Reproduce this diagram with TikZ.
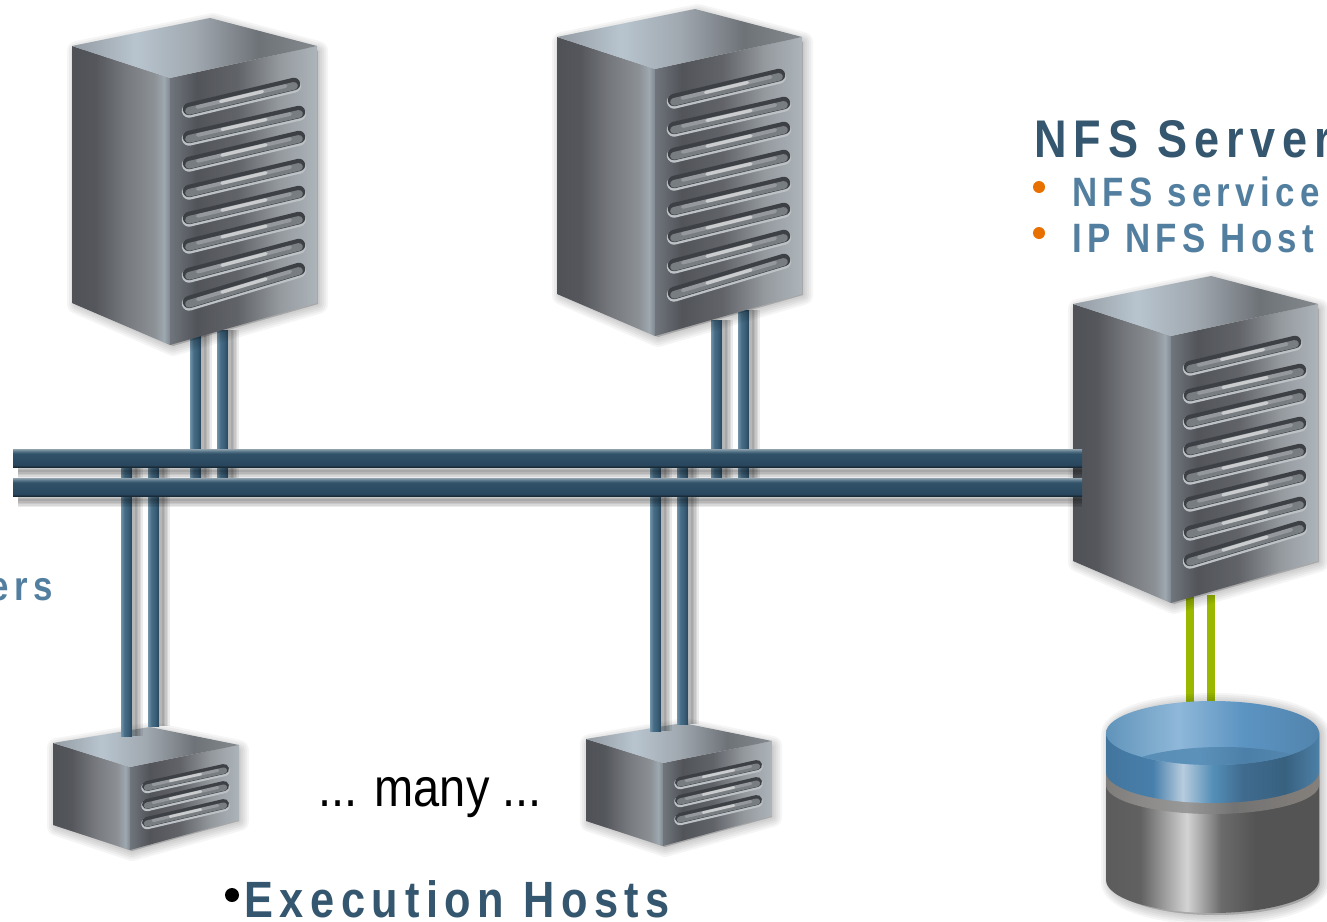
\documentclass[tikz,border=0pt]{standalone}
\usepackage{fontspec}
\setmainfont{Liberation Sans}
\newfontfamily\trackfont{Liberation Sans}[LetterSpace=13,FakeStretch=0.85]
\newfontfamily\plainfont{Liberation Sans}[FakeStretch=0.87]
\usetikzlibrary{calc}
\definecolor{titleblue}{HTML}{34566E}
\definecolor{subblue}{HTML}{527F9F}
\definecolor{dotorange}{HTML}{E87000}
\definecolor{storagegreen}{HTML}{9AB800}
\definecolor{slatlight}{rgb}{.74,.76,.78}
\definecolor{slatdark}{rgb}{.24,.25,.27}
\definecolor{slatmid}{rgb}{.47,.49,.51}
% a shading's 25bp..75bp span the path's bounding box
\pgfdeclarehorizontalshading{srvleft}{100bp}{rgb(0bp)=(.31,.32,.34); rgb(25bp)=(.31,.32,.34); rgb(37bp)=(.33,.34,.36); rgb(52bp)=(.46,.47,.49); rgb(67bp)=(.55,.57,.59); rgb(72bp)=(.62,.66,.69); rgb(75bp)=(.50,.53,.56); rgb(100bp)=(.50,.53,.56)}
\pgfdeclarehorizontalshading{srvfront}{100bp}{rgb(0bp)=(.44,.46,.49); rgb(25bp)=(.44,.46,.49); rgb(34bp)=(.32,.33,.35); rgb(48bp)=(.38,.39,.41); rgb(62bp)=(.58,.60,.62); rgb(75bp)=(.68,.71,.73); rgb(100bp)=(.68,.71,.73)}
\pgfdeclarehorizontalshading{srvtop}{100bp}{rgb(0bp)=(.58,.61,.64); rgb(25bp)=(.58,.61,.64); rgb(38bp)=(.72,.77,.81); rgb(50bp)=(.63,.66,.69); rgb(63bp)=(.43,.45,.47); rgb(75bp)=(.52,.54,.56); rgb(100bp)=(.52,.54,.56)}
\pgfdeclarehorizontalshading{cableshade}{100bp}{rgb(0bp)=(.45,.58,.66); rgb(25bp)=(.45,.58,.66); rgb(40bp)=(.28,.43,.53); rgb(60bp)=(.22,.36,.46); rgb(75bp)=(.16,.27,.36); rgb(100bp)=(.16,.27,.36)}
\pgfdeclareverticalshading{busshade}{100bp}{rgb(0bp)=(.10,.17,.22); rgb(25bp)=(.10,.17,.22); rgb(31bp)=(.16,.28,.37); rgb(62bp)=(.19,.32,.41); rgb(68bp)=(.32,.44,.52); rgb(75bp)=(.56,.63,.68); rgb(100bp)=(.56,.63,.68)}
\pgfdeclarehorizontalshading{blueband}{100bp}{rgb(0bp)=(.26,.46,.62); rgb(25bp)=(.26,.46,.62); rgb(36bp)=(.28,.50,.67); rgb(43bp)=(.72,.80,.87); rgb(50bp)=(.33,.56,.72); rgb(57bp)=(.25,.42,.56); rgb(67bp)=(.22,.38,.50); rgb(75bp)=(.30,.50,.65); rgb(100bp)=(.30,.50,.65)}
\pgfdeclarehorizontalshading{bluetop}{100bp}{rgb(0bp)=(.38,.58,.73); rgb(25bp)=(.38,.58,.73); rgb(42bp)=(.56,.72,.85); rgb(57bp)=(.36,.58,.76); rgb(75bp)=(.32,.52,.68); rgb(100bp)=(.32,.52,.68)}
\pgfdeclarehorizontalshading{blueinner}{100bp}{rgb(0bp)=(.34,.54,.70); rgb(25bp)=(.34,.54,.70); rgb(45bp)=(.36,.57,.73); rgb(55bp)=(.30,.50,.66); rgb(75bp)=(.36,.56,.72); rgb(100bp)=(.36,.56,.72)}
\pgfdeclarehorizontalshading{graybody}{100bp}{rgb(0bp)=(.36,.36,.36); rgb(25bp)=(.36,.36,.36); rgb(33bp)=(.38,.38,.38); rgb(44bp)=(.83,.83,.83); rgb(52bp)=(.42,.42,.42); rgb(60bp)=(.33,.33,.33); rgb(100bp)=(.33,.33,.33)}
\pgfdeclarehorizontalshading{graylip}{100bp}{rgb(0bp)=(.50,.49,.48); rgb(25bp)=(.50,.49,.48); rgb(44bp)=(.60,.60,.60); rgb(55bp)=(.45,.45,.45); rgb(75bp)=(.52,.50,.48); rgb(100bp)=(.52,.50,.48)}
\tikzset{
  x=1pt,y=-1pt,
  tracktext/.style={anchor=base west,inner sep=0pt,font=\trackfont\bfseries},
  softstroke/.style={line join=round,line cap=round,black,opacity=.04}
}
% soft shadow: stack of translucent strokes
\newcommand{\softshadow}[1]{%
  \foreach \w in {20,16,12,8,4}{\filldraw[softstroke,line width=\w pt] #1;}}
\newcommand{\softline}[1]{%
  \foreach \w in {14,11,8,5,2}{\draw[softstroke,opacity=.08,line cap=butt,line width=\w pt] #1;}}
\newcommand{\slat}[5]{% x1 y1 x2 y2 width
  \draw[line cap=round,line width=#5*1.15pt,slatlight] (#1,#2+1.5) -- (#3,#4+1.5);
  \draw[line cap=round,line width=#5pt,slatdark] (#1,#2) -- (#3,#4);
  \draw[line cap=round,line width=#5*.62pt,slatmid] (#1,#2+#5*.15) -- (#3,#4+#5*.15);
  \draw[line cap=round,line width=#5*.3pt,white,opacity=.22] ($(#1,#2)!.08!(#3,#4)$) -- ($(#1,#2)!.92!(#3,#4)$);
  \draw[line cap=round,line width=#5*.26pt,white,opacity=.5] ($(#1,#2)!.3!(#3,#4)$) -- ($(#1,#2)!.7!(#3,#4)$);
}
\newcommand{\bigserver}[2]{% dx dy
  \begin{scope}[shift={(#1,#2)}]
    \softshadow{[shift={(3,3)}] (74,48) -- (210,20) -- (315,48) -- (315,301) -- (170,343) -- (74,301) -- cycle}
    \shade[shading=srvleft] (72,46) -- (170,78) -- (170,345) -- (72,303) -- cycle;
    \shade[shading=srvfront] (170,78) -- (317,46) -- (317,303) -- (170,345) -- cycle;
    \shade[shading=srvtop] (72,46) -- (210,18) -- (317,46) -- (170,78) -- cycle;
    \slat{189}{109}{294}{84}{12.5}
    \slat{189}{137}{299}{112}{12.5}
    \slat{189}{163}{299}{137}{12.5}
    \slat{189}{191}{299}{165}{12.5}
    \slat{189}{218}{299}{192}{12.5}
    \slat{189}{245}{299}{218}{12.5}
    \slat{189}{274}{299}{245}{12.5}
    \slat{189}{302}{299}{269}{12.5}
  \end{scope}}
\newcommand{\smallserver}[2]{% dx dy
  \begin{scope}[shift={(#1,#2)}]
    \softshadow{[shift={(2,3)}] (55,745) -- (150,729) -- (237,747) -- (237,818) -- (130,848) -- (55,823) -- cycle}
    \shade[shading=srvleft] (53,743) -- (130,767) -- (130,850) -- (53,825) -- cycle;
    \shade[shading=srvfront] (130,767) -- (239,745) -- (239,820) -- (130,850) -- cycle;
    \shade[shading=srvtop] (53,743) -- (150,727) -- (239,745) -- (130,767) -- cycle;
    \slat{147}{786}{224}{769}{10}
    \slat{147}{804}{224}{786}{10}
    \slat{147}{822}{224}{804}{10}
  \end{scope}}
\newcommand{\cable}[2]{%
  \softline{([xshift=9pt]#1.center) -- ([xshift=9pt]#2.center)}
  \shade[shading=cableshade] ([xshift=-5.5pt]#1.center) rectangle ([xshift=5.5pt]#2.center);}
\newcommand{\busbar}[2]{%
  \softline{([xshift=5pt,yshift=-13pt]#1.center) -- ([yshift=-13pt]#2.center)}
  \shade[shading=busshade] ([yshift=9pt]#1.center) rectangle ([yshift=-9pt]#2.center);}
\begin{document}
\begin{tikzpicture}
\useasboundingbox (0,0) rectangle (1327,921);
\fill[white] (0,0) rectangle (1327,921);

% connector end points
\coordinate (busAw) at (13,458);   \coordinate (busAe) at (1082,458);
\coordinate (busBw) at (13,487);   \coordinate (busBe) at (1082,487);
\coordinate (s1a) at (195.5,330);  \coordinate (s1ab) at (195.5,478);
\coordinate (s1b) at (222.5,330);  \coordinate (s1bb) at (222.5,478);
\coordinate (s2a) at (716.5,320);  \coordinate (s2ab) at (716.5,478);
\coordinate (s2b) at (743.5,310);  \coordinate (s2bb) at (743.5,478);
\coordinate (h1a) at (126.5,467);  \coordinate (h1ab) at (126.5,736);
\coordinate (h1b) at (153.5,467);  \coordinate (h1bb) at (153.5,726);
\coordinate (h2a) at (655.5,467);  \coordinate (h2ab) at (655.5,731);
\coordinate (h2b) at (682.5,467);  \coordinate (h2bb) at (682.5,724);
\coordinate (nfsA) at (1189.5,595); \coordinate (stA) at (1189.5,703);
\coordinate (nfsB) at (1211,595);   \coordinate (stB) at (1211,703);

% uplinks behind the big servers
\cable{s1a}{s1ab}
\cable{s1b}{s1bb}
\cable{s2a}{s2ab}
\cable{s2b}{s2bb}

% storage links
\draw[storagegreen,line width=8pt] (nfsA) -- (stA);
\draw[storagegreen,line width=8pt] (nfsB) -- (stB);

% servers
\bigserver{0}{0}
\bigserver{485}{-9}
\bigserver{1001}{258}
\smallserver{0}{0}
\smallserver{533}{-4}

% host links
\cable{h1a}{h1ab}
\cable{h1b}{h1bb}
\cable{h2a}{h2ab}
\cable{h2b}{h2bb}

% buses
\busbar{busAw}{busAe}
\busbar{busBw}{busBe}

% storage cylinder
\softshadow{[shift={(3,2)}] (1108,733) -- (1108,880) arc[start angle=180,end angle=360,x radius=104.5pt,y radius=33pt] -- (1317,733) arc[start angle=0,end angle=180,x radius=104.5pt,y radius=32pt]}
\shade[shading=graybody] (1106,780) -- (1106,880) arc[start angle=180,end angle=360,x radius=106.5pt,y radius=33pt] -- (1319,780) -- cycle;
\shade[shading=graylip] (1106,772) -- (1106,785) arc[start angle=180,end angle=360,x radius=106.5pt,y radius=29pt] -- (1319,772) -- cycle;
\shade[shading=blueband] (1106,733) -- (1106,772) arc[start angle=180,end angle=360,x radius=106.5pt,y radius=31pt] -- (1319,733) -- cycle;
\shade[shading=bluetop] (1212.5,733) ellipse[x radius=106.5pt,y radius=32pt];
\begin{scope}
  \clip (1212.5,733) ellipse[x radius=106.5pt,y radius=32pt];
  \shade[shading=blueinner] (1222,784) ellipse[x radius=118pt,y radius=37pt];
\end{scope}

% texts
\node[tracktext,text=titleblue,font=\fontsize{53}{53}\selectfont\trackfont\bfseries] (nfstitle) at (1034,157.5) {NFS Server};
\node[tracktext,text=subblue,font=\fontsize{41}{41}\selectfont\trackfont\bfseries] (nfsservice) at (1072,206) {NFS service};
\node[tracktext,text=subblue,font=\fontsize{41}{41}\selectfont\trackfont\bfseries] (nfshost) at (1072,252) {IP NFS Host};
\fill[dotorange] (1039,187) circle[radius=6pt];
\fill[dotorange] (1039,233) circle[radius=6pt];
\node[anchor=base east,inner sep=0pt,text=subblue,font=\fontsize{41}{41}\selectfont\trackfont\bfseries] (ers) at (53,600) {ers};
\node[anchor=base,inner sep=0pt,font=\fontsize{54}{54}\selectfont\plainfont] (many) at (430,806) {... many ...};
\fill[black] (232,895) circle[radius=7pt];
\node[tracktext,text=titleblue,font=\fontsize{51}{51}\selectfont\trackfont\bfseries] (exec) at (244,917) {Execution Hosts};
\end{tikzpicture}
\end{document}
